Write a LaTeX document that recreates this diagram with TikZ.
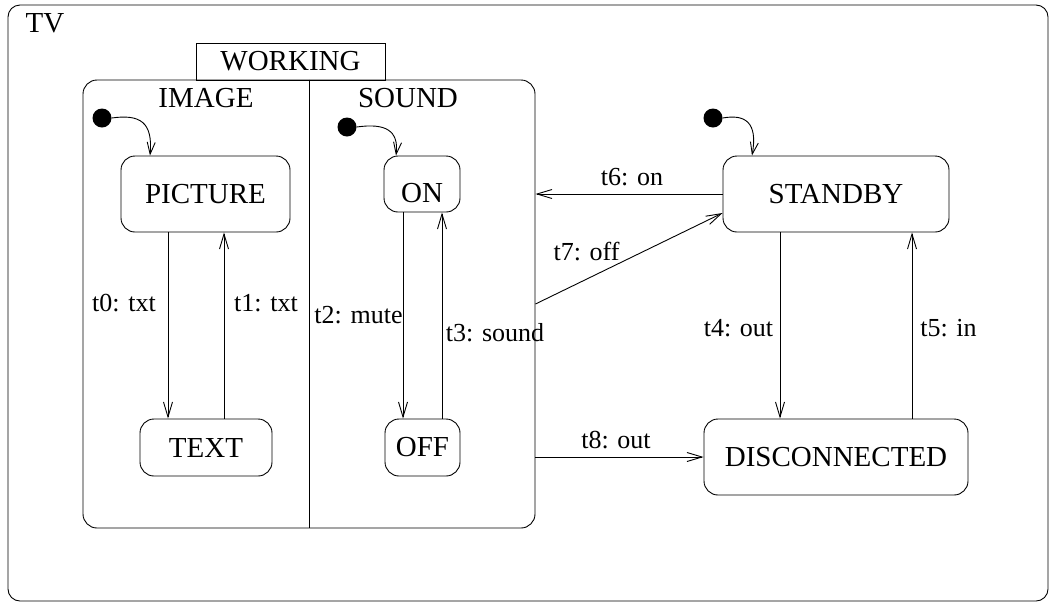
\documentclass[tikz,border=0pt]{standalone}
\usepackage{fontspec}
\setmainfont{Liberation Serif}
\usetikzlibrary{arrows.meta,calc}
\tikzset{
  big/.style={font=\fontsize{29}{34}\selectfont},
  lbl/.style={font=\fontsize{26}{30}\selectfont, inner sep=0pt},
  state/.style={draw, line width=0.9pt, rounded corners=14pt, big, inner sep=0pt},
  trans/.style={line width=0.9pt, -{Straight Barb[length=15pt,width=9pt,line width=0.9pt]}},
  initdot/.style={circle, fill=black, inner sep=0pt, minimum size=19pt},
  initarr/.style={line width=0.9pt, -{Straight Barb[length=12pt,width=8pt,line width=0.9pt]}},
}
\begin{document}
\begin{tikzpicture}[x=1pt,y=-1pt]
\useasboundingbox (0,0) rectangle (1056,606);
% outer TV box
\node[draw, line width=0.9pt, rounded corners=12pt, minimum width=1040pt, minimum height=596pt, inner sep=0pt] (tv) at (528,303) {};
\node[big, inner sep=0pt] (tvlbl) at (45,23) {TV};
% WORKING
\node[draw, line width=0.9pt, rounded corners=14pt, minimum width=452pt, minimum height=448pt, inner sep=0pt] (working) at (309,304) {};
\node[draw, line width=0.9pt, big, minimum width=189pt, minimum height=37pt, inner sep=0pt] (worktab) at (290.5,61.5) {WORKING};
\draw[line width=0.9pt] (working.north) -- (working.south);
\node[big, inner sep=0pt] (imagelbl) at (206,98) {IMAGE};
\node[big, inner sep=0pt] (soundlbl) at (408,98) {SOUND};
% states
\node[state, minimum width=169pt, minimum height=76pt] (PICTURE) at (205.5,194) {PICTURE};
\node[state, minimum width=132pt, minimum height=57pt] (TEXT) at (206,447.5) {TEXT};
\node[state, minimum width=76pt, minimum height=56pt, text height=36pt, text depth=0pt] (ON) at (422,184) {ON};
\node[state, minimum width=75pt, minimum height=57pt] (OFF) at (422.5,447.5) {OFF};
\node[state, minimum width=226pt, minimum height=76pt] (STANDBY) at (836,194) {STANDBY};
\node[state, minimum width=264pt, minimum height=76pt] (DISC) at (836,457) {DISCONNECTED};
% initial states
\node[initdot] (i1) at (102,118) {};
\node[initdot] (i2) at (347,127) {};
\node[initdot] (i3) at (713,118) {};
\draw[initarr] (i1.east) .. controls (140,114) and (153,122) .. ([xshift=-55.5pt]PICTURE.north);
\draw[initarr] (i2.east) .. controls (385,123) and (399,130) .. ([xshift=-26pt]ON.north);
\draw[initarr] (i3.east) .. controls (745,114) and (758,122) .. ([xshift=-84pt]STANDBY.north);
% internal transitions
\coordinate (x0) at (168,0);
\coordinate (x1) at (224,0);
\coordinate (x2) at (403,0);
\coordinate (x3) at (442,0);
\coordinate (x4) at (780,0);
\coordinate (x5) at (912,0);
\draw[trans] (PICTURE.south -| x0) -- (TEXT.north -| x0);
\draw[trans] (TEXT.north -| x1) -- (PICTURE.south -| x1);
\draw[trans] (ON.south -| x2) -- (OFF.north -| x2);
\draw[trans] (OFF.north -| x3) -- (ON.south -| x3);
\draw[trans] (STANDBY.south -| x4) -- (DISC.north -| x4);
\draw[trans] (DISC.north -| x5) -- (STANDBY.south -| x5);
\draw[trans] (STANDBY.west) -- (STANDBY.west -| working.east);
\draw[trans] (working.east) -- ([yshift=-19pt]STANDBY.west);
\draw[trans] (DISC.west -| working.east) -- (DISC.west);
% labels
\node[lbl] (l0) at (124,303) {t0: txt};
\node[lbl] (l1) at (266,303) {t1: txt};
\node[lbl] (l2) at (358.5,315) {t2: mute};
\node[lbl] (l3) at (495,333) {t3: sound};
\node[lbl] (l4) at (738.5,328) {t4: out};
\node[lbl] (l5) at (948.5,328) {t5: in};
\node[lbl] (l6) at (632,177) {t6: on};
\node[lbl] (l7) at (586.5,252) {t7: off};
\node[lbl] (l8) at (616,440) {t8: out};
\end{tikzpicture}
\end{document}
